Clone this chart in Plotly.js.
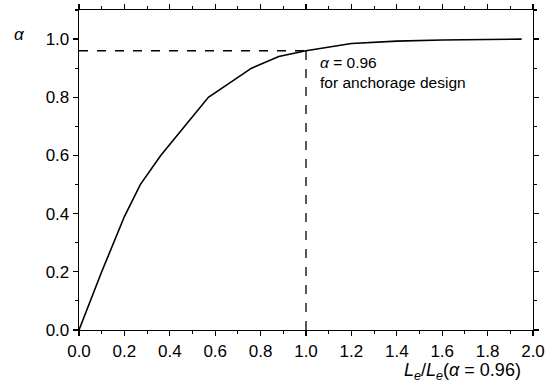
<!DOCTYPE html>
<html><head><meta charset="utf-8">
<script src="https://cdn.plot.ly/plotly-3.0.1.min.js"></script>
<style>html,body{margin:0;padding:0;background:#fff}#c{width:554px;height:391px}</style>
</head><body><div id="c"></div>
<script>
var ratio = [0, 0.1, 0.2, 0.27, 0.36, 0.57, 0.76, 0.88, 1.0, 1.2, 1.4, 1.6, 1.95];
var alpha = [0, 0.2, 0.39, 0.5, 0.6, 0.8, 0.9, 0.94, 0.96, 0.985, 0.993, 0.997, 1.0];
var designRatio = 1.0;
var designAlpha = 0.96;
var xTicks = [0, 0.2, 0.4, 0.6, 0.8, 1.0, 1.2, 1.4, 1.6, 1.8, 2.0];
var xTickLabels = ['0.0','0.2','0.4','0.6','0.8','1.0','1.2','1.4','1.6','1.8','2.0'];
var yTicks = [0, 0.2, 0.4, 0.6, 0.8, 1.0];
var yTickLabels = ['0.0','0.2','0.4','0.6','0.8','1.0'];

var font = {family:'Liberation Sans, Arial, sans-serif', color:'#000'};
var traces = [
  {x:[0, designRatio], y:[designAlpha, designAlpha], mode:'lines', line:{color:'#000', width:1.3, dash:'dash'}, hoverinfo:'skip'},
  {x:[designRatio, designRatio], y:[0, designAlpha], mode:'lines', line:{color:'#000', width:1.3, dash:'dash'}, hoverinfo:'skip'},
  {x:ratio, y:alpha, mode:'lines', line:{color:'#000', width:1.6}}
];
var axisCommon = {showgrid:false, zeroline:false, showline:true, linecolor:'#000', linewidth:1.3,
  ticks:'outside', ticklen:5, tickwidth:1.3, tickcolor:'#000', mirror:'ticks',
  tickfont:{family:font.family, size:17, color:'#000'},
  minor:{ticks:'outside', ticklen:3, tickwidth:1.1, tickcolor:'#000', dtick:0.1}};
var layout = {
  width:554, height:391, margin:{l:79, r:21, t:10, b:61},
  paper_bgcolor:'#fff', plot_bgcolor:'#fff', showlegend:false,
  xaxis: Object.assign({}, axisCommon, {range:[0,2.0], tickmode:'array', tickvals:xTicks, ticktext:xTickLabels}),
  yaxis: Object.assign({}, axisCommon, {range:[0,1.1], tickmode:'array', tickvals:yTicks, ticktext:yTickLabels}),
  annotations:[
    {xref:'paper', yref:'paper', x:-0.13, y:0.922, xanchor:'center', yanchor:'middle', showarrow:false,
     text:'<i>α</i>', font:{family:font.family, size:17, color:'#000'}},
    {xref:'paper', yref:'paper', x:0.978, y:-0.131, xanchor:'right', yanchor:'middle', showarrow:false,
     text:'<i>L</i><sub><i>e</i></sub>/<i>L</i><sub><i>e</i></sub>(<i>α</i> = 0.96)', font:{family:font.family, size:18, color:'#000'}},
    {xref:'x', yref:'y', x:1.053, y:0.918, xanchor:'left', yanchor:'middle', showarrow:false,
     text:'<i>α</i> = 0.96', font:{family:font.family, size:15.5, color:'#000'}},
    {xref:'x', yref:'y', x:1.053, y:0.852, xanchor:'left', yanchor:'middle', showarrow:false,
     text:'for anchorage design', font:{family:font.family, size:15.5, color:'#000'}}
  ]
};
Plotly.newPlot('c', traces, layout, {displayModeBar:false, staticPlot:true});
</script></body></html>
